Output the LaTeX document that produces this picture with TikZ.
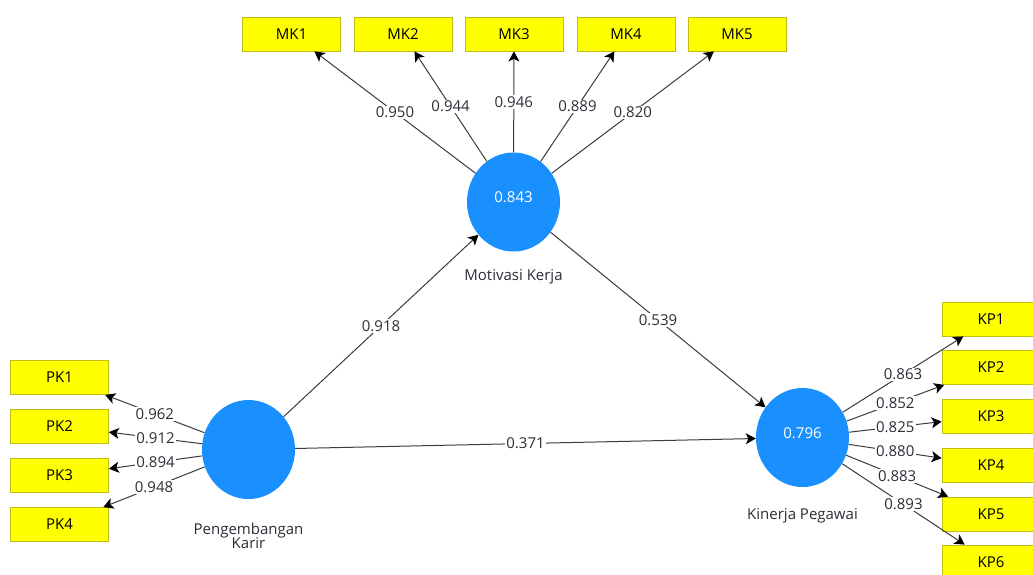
\documentclass[tikz,border=0pt]{standalone}
\usepackage{fontspec}
\setmainfont{Open Sans}
\usetikzlibrary{shapes.geometric,arrows.meta}
\definecolor{plsblue}{RGB}{26,144,255}
\definecolor{boxyellow}{RGB}{255,255,0}
\definecolor{boxedge}{RGB}{190,190,20}
\definecolor{linegray}{RGB}{60,60,60}
\definecolor{valtext}{RGB}{45,45,55}
\tikzset{
  ind/.style={rectangle, fill=boxyellow, draw=boxedge, line width=0.8pt,
    minimum width=98pt, minimum height=34pt, inner sep=0pt,
    text=black, font=\fontsize{15}{17}\selectfont},
  lv/.style={ellipse, fill=plsblue, minimum width=93pt, minimum height=99pt, inner sep=0pt},
  lvtxt/.style={text=white, font=\fontsize{15}{17}\selectfont, inner sep=0pt},
  lvname/.style={text=valtext, font=\fontsize{15}{17}\selectfont, align=center, inner sep=0pt},
  conn/.style={draw=linegray, line width=1pt, -{Stealth[length=10pt,width=11pt,inset=2.5pt,color=black,fill=black]}},
  val/.style={fill=white, inner sep=1.2pt, text=valtext, font=\fontsize{15}{17}\selectfont, pos=0.5}
}
\begin{document}
\begin{tikzpicture}[x=1pt,y=-1pt]
\useasboundingbox (0,0) rectangle (1033,574);
\clip (0,0) rectangle (1033,574);
\fill[white] (0,0) rectangle (1033,574);
% latent variables
\node[lv] (mkc) at (513.5,202) {};
\node[lvtxt] (mkv) at (513.5,197) {0.843};
\node[lvname] (mkn) at (513.5,277) {Motivasi Kerja};
\node[lv] (pkc) at (248.5,449.5) {};
\node[lvname] (pkn) at (248.5,536) {Pengembangan\\[-3pt]Karir};
\node[lv] (kpc) at (802.5,437.5) {};
\node[lvtxt] (kpv) at (802.5,433) {0.796};
\node[lvname] (kpn) at (802.5,516) {Kinerja Pegawai};
% indicators MK
\node[ind] (mk1) at (291.5,34) {MK1};
\node[ind] (mk2) at (403,34) {MK2};
\node[ind] (mk3) at (514,34) {MK3};
\node[ind] (mk4) at (626,34) {MK4};
\node[ind] (mk5) at (737,34) {MK5};
% indicators PK
\node[ind] (pk1) at (59.5,377.5) {PK1};
\node[ind] (pk2) at (59.5,426) {PK2};
\node[ind] (pk3) at (59.5,475.5) {PK3};
\node[ind] (pk4) at (59.5,524.5) {PK4};
% indicators KP
\node[ind] (kp1) at (991,319) {KP1};
\node[ind] (kp2) at (991,367.5) {KP2};
\node[ind] (kp3) at (991,416) {KP3};
\node[ind] (kp4) at (991,465.5) {KP4};
\node[ind] (kp5) at (991,514) {KP5};
\node[ind] (kp6) at (991,562) {KP6};
% outer loadings MK
\draw[conn] (mkc) -- node[val]{0.950} (mk1);
\draw[conn] (mkc) -- node[val]{0.944} (mk2);
\draw[conn] (mkc) -- node[val]{0.946} (mk3);
\draw[conn] (mkc) -- node[val]{0.889} (mk4);
\draw[conn] (mkc) -- node[val]{0.820} (mk5);
% outer loadings PK
\draw[conn] (pkc) -- node[val]{0.962} (pk1);
\draw[conn] (pkc) -- node[val]{0.912} (pk2);
\draw[conn] (pkc) -- node[val]{0.894} (pk3);
\draw[conn] (pkc) -- node[val]{0.948} (pk4);
% outer loadings KP
\draw[conn] (kpc) -- node[val]{0.863} (kp1);
\draw[conn] (kpc) -- node[val]{0.852} (kp2);
\draw[conn] (kpc) -- node[val]{0.825} (kp3);
\draw[conn] (kpc) -- node[val]{0.880} (kp4);
\draw[conn] (kpc) -- node[val]{0.883} (kp5);
\draw[conn] (kpc) -- node[val]{0.893} (kp6);
% structural paths
\draw[conn] (pkc) -- node[val]{0.918} (mkc);
\draw[conn] (mkc) -- node[val]{0.539} (kpc);
\draw[conn] (pkc) -- node[val]{0.371} (kpc);
\end{tikzpicture}
\end{document}
